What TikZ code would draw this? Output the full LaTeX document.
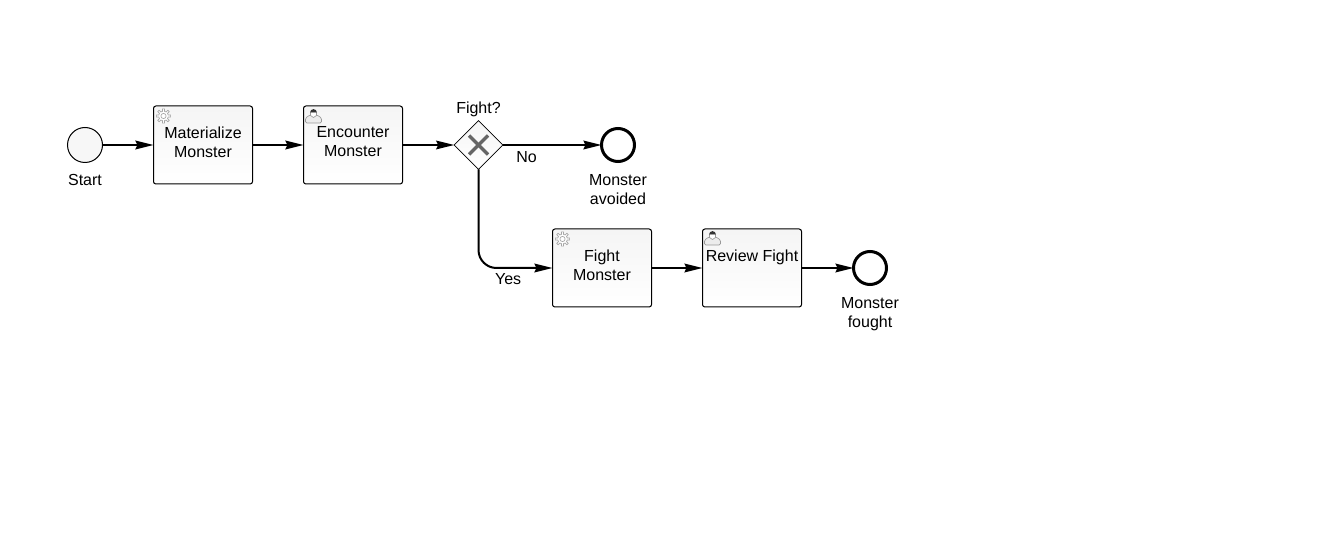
\documentclass[tikz,border=0pt]{standalone}
\usepackage{fontspec}
\setmainfont{Liberation Sans}
\usetikzlibrary{positioning, arrows.meta, shapes.geometric}
\tikzset{flow/.style={-{Stealth[length=13.5pt,width=6.5pt,inset=1.5pt]}, line width=1.5pt, black},
  gearicon/.pic={
    \draw[gray!70, line width=0.5pt, fill=white] (-12:4.8)
      \foreach \a in {0,45,...,315} {-- (\a-12:4.8) -- (\a-8:7.2) -- (\a+8:7.2) -- (\a+12:4.8)} -- cycle;
    \draw[gray!70, line width=0.5pt] (0,0) circle (2.6);
  },
  usericon/.pic={
    \draw[gray!80, line width=0.5pt, fill=gray!15, rounded corners=1pt] (-8,7) -- (-8,2) -- (-3.5,-1) -- (3.5,-1) -- (8,2) -- (8,7) -- cycle;
    \draw[gray!80, line width=0.5pt, fill=white] (-3,-4) -- (-3,-0.5) -- (0,1.5) -- (3,-0.5) -- (3,-4) -- cycle;
    \fill[black!80] (-3.4,-3.5) arc (180:360:3.4) -- cycle;
  }
}

\begin{document}
\begin{tikzpicture}[x=0.75pt, y=-0.75pt, node distance = 38.25pt,
  task/.style={rectangle, draw=black, line width=0.75pt, rounded corners=1.8pt, top color=black!4, bottom color=white, minimum width=74.25pt, minimum height=58.5pt, inner sep=0pt, outer sep=0pt},
  tasktext/.style={font=\fontsize{12}{14.25}\selectfont, align=center, inner sep=0pt},
  gateway/.style={diamond, draw=black, line width=0.5pt, top color=black!4, bottom color=white, minimum width=36.5pt, minimum height=36.5pt, inner sep=0pt, outer sep=0pt},
  startevent/.style={circle, draw=black, line width=0.75pt, fill=black!3, minimum size=26.25pt, inner sep=0pt, outer sep=0pt},
  endevent/.style={circle, draw=black, line width=2.25pt, fill=white, minimum size=24.75pt, inner sep=0pt, outer sep=0pt},
  caption/.style={font=\fontsize{12}{14.25}\selectfont, align=center, inner sep=0pt}]
    \useasboundingbox (0,0) rectangle (1327,541);

    \node[startevent] (start) at (85,145) {};
    \node[task, right=of start] (materialize) {};
    \node[task, right=of materialize] (encounter) {};
    \node[gateway, right=38.75pt of encounter] (fight) {};
    \node[endevent, right=74pt of fight] (avoided) {};

    \node[task] (fightmonster) at (602,268) {};
    \node[task, right=of fightmonster] (review) {};
    \node[endevent, right=39pt of review] (fought) {};

    % task texts
    \node[tasktext, below=15.25pt of materialize.north] (materializetext) {Materialize\\Monster};
    \node[tasktext, below=15.25pt of encounter.north] (encountertext) {Encounter\\Monster};
    \node[tasktext, below=15.25pt of fightmonster.north] (fightmonstertext) {Fight\\Monster};
    \node[tasktext, below=15.25pt of review.north] (reviewtext) {Review Fight};

    % event and gateway labels
    \node[caption, below=8.75pt of start] (starttext) {Start};
    \node[caption, above=2.5pt of fight] (fighttext) {Fight?};
    \node[caption, below=9.5pt of avoided] (avoidedtext) {Monster\\avoided};
    \node[caption, below=9.5pt of fought] (foughttext) {Monster\\fought};

    % icons
    \pic at ([shift={(10,10)}]materialize.north west) {gearicon};
    \pic at ([shift={(10,10)}]encounter.north west) {usericon};
    \pic at ([shift={(10,10)}]fightmonster.north west) {gearicon};
    \pic at ([shift={(10,9)}]review.north west) {usericon};
    \draw[black!60, line width=2.6pt] ([shift={(-9.5,-9.5)}]fight.center) -- ([shift={(9.5,9.5)}]fight.center);
    \draw[black!60, line width=2.6pt] ([shift={(-9.5,9.5)}]fight.center) -- ([shift={(9.5,-9.5)}]fight.center);

    \draw[flow] (start) -- (materialize);
    \draw[flow] (materialize) -- (encounter);
    \draw[flow] (encounter) -- (fight);
    \draw[flow] (fight) -- node[caption, pos=0.24, below=4.25pt] (notext) {No} (avoided);
    \draw[flow, rounded corners=13.5pt] (fight.south) |- node[caption, pos=0.70, below=3.5pt] (yestext) {Yes} (fightmonster.west);
    \draw[flow] (fightmonster) -- (review);
    \draw[flow] (review) -- (fought);
\end{tikzpicture}
\end{document}
